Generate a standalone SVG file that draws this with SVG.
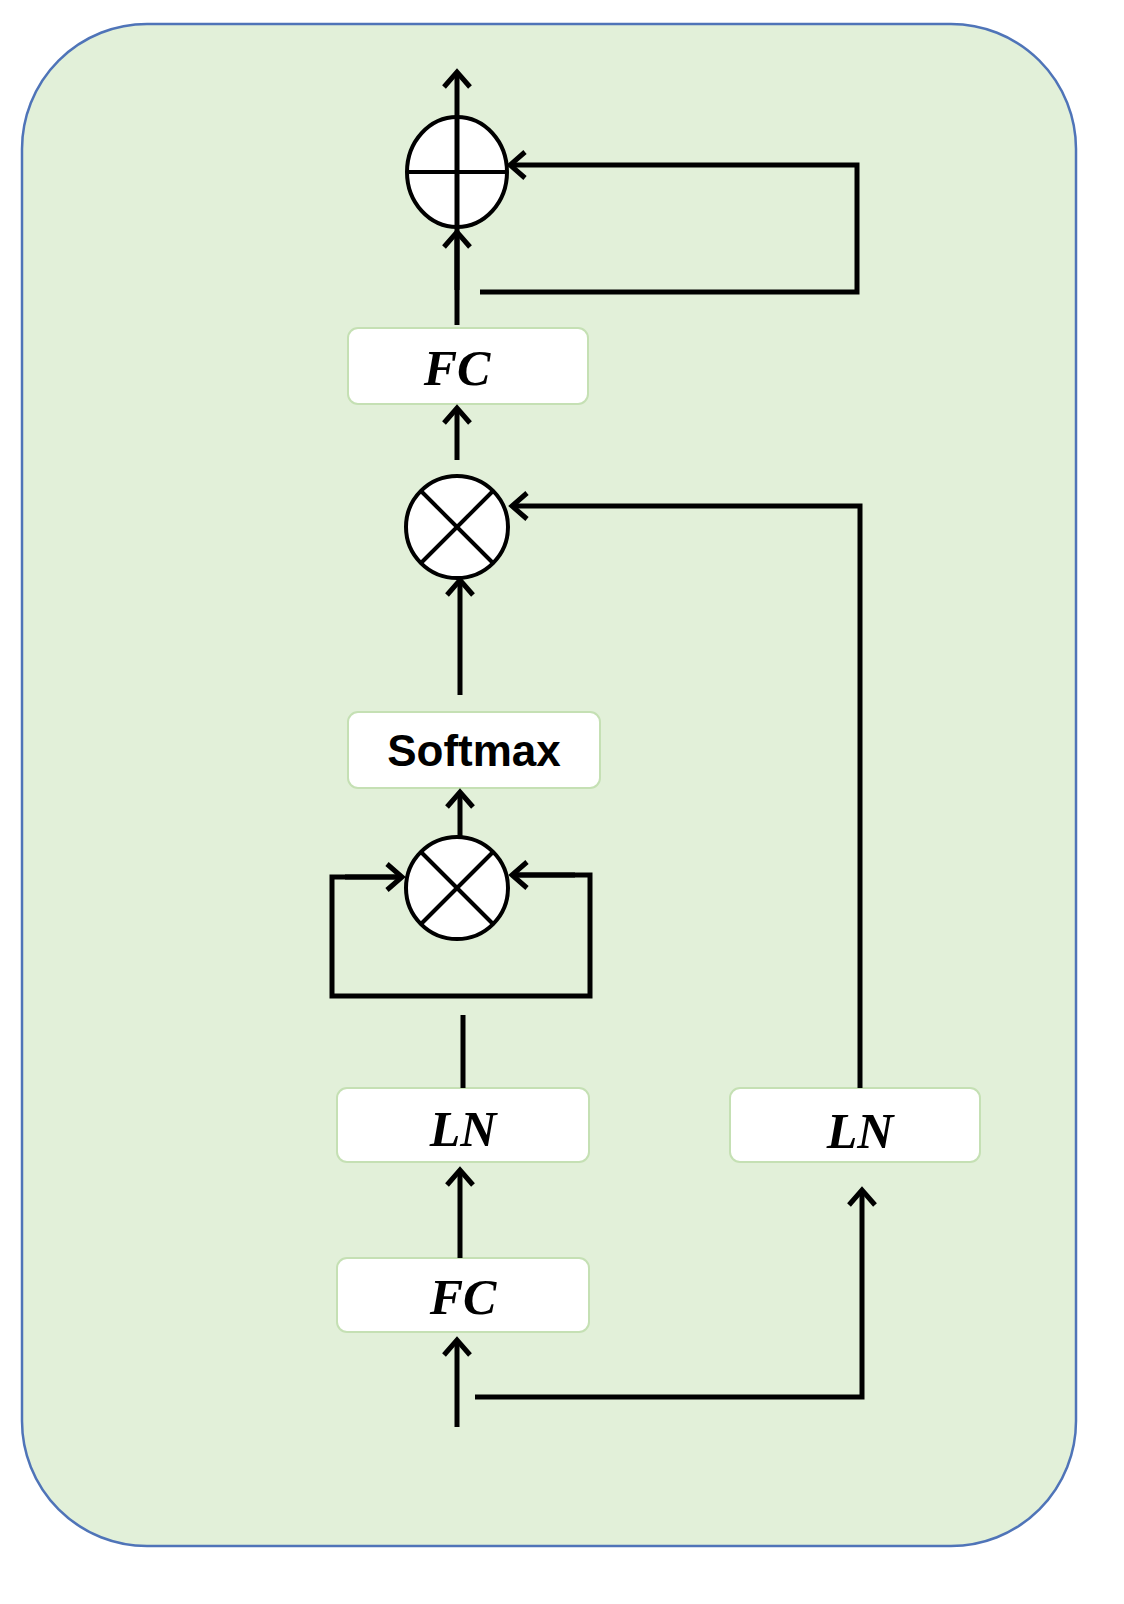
<svg xmlns="http://www.w3.org/2000/svg" width="1124" height="1604" viewBox="0 0 1124 1604">
<style>
.box{fill:#fff;stroke:#c5e0b4;stroke-width:2}
.ln{fill:none;stroke:#000;stroke-width:5}
.op{fill:#fff;stroke:#000;stroke-width:4}
.t{font-family:"Liberation Serif",serif;font-style:italic;font-weight:bold;font-size:50px;text-anchor:middle}
.s{font-family:"Liberation Sans",sans-serif;font-weight:bold;font-size:44px;text-anchor:middle}
</style>
<defs>
<marker id="a" viewBox="0 0 20 20" refX="18" refY="10" markerWidth="20" markerHeight="20" markerUnits="userSpaceOnUse" orient="auto" style="overflow:visible">
<polyline points="3,-3 18,10 3,23" fill="none" stroke="#000" stroke-width="5"/>
</marker>
</defs>
<rect x="22" y="24" width="1054" height="1522" rx="125" fill="#e2f0d9" stroke="#4f74b8" stroke-width="2.5"/>
<g id="add">
<ellipse class="op" cx="457" cy="172" rx="50" ry="55"/>
<line x1="407" y1="172" x2="507" y2="172" stroke="#000" stroke-width="4"/>
</g>
<g id="fc2"><rect class="box" x="348" y="328" width="240" height="76" rx="10"/><text class="t" x="457" y="385">FC</text></g>
<g id="mul2">
<circle class="op" cx="457" cy="527" r="51"/>
<line x1="421" y1="491" x2="493" y2="563" stroke="#000" stroke-width="4"/>
<line x1="493" y1="491" x2="421" y2="563" stroke="#000" stroke-width="4"/>
</g>
<g id="softmax"><rect class="box" x="348" y="712" width="252" height="76" rx="10"/><text class="s" x="474" y="766">Softmax</text></g>
<g id="mul1">
<circle class="op" cx="457" cy="888" r="51"/>
<line x1="421" y1="852" x2="493" y2="924" stroke="#000" stroke-width="4"/>
<line x1="493" y1="852" x2="421" y2="924" stroke="#000" stroke-width="4"/>
</g>
<g id="ln1"><rect class="box" x="337" y="1088" width="252" height="74" rx="10"/><text class="t" x="463" y="1146">LN</text></g>
<g id="ln2"><rect class="box" x="730" y="1088" width="250" height="74" rx="10"/><text class="t" x="860" y="1148">LN</text></g>
<g id="fc1"><rect class="box" x="337" y="1258" width="252" height="74" rx="10"/><text class="t" x="463" y="1314">FC</text></g>
<g id="connectors">
<line class="ln" x1="457" y1="325" x2="457" y2="72" marker-end="url(#a)"/>
<line class="ln" x1="457" y1="290" x2="457" y2="232" marker-end="url(#a)"/>
<polyline class="ln" points="480,292 857,292 857,165 510,165" marker-end="url(#a)"/>
<line class="ln" x1="457" y1="460" x2="457" y2="408" marker-end="url(#a)"/>
<line class="ln" x1="460" y1="695" x2="460" y2="580" marker-end="url(#a)"/>
<polyline class="ln" points="860,1088 860,506 512,506" marker-end="url(#a)"/>
<line class="ln" x1="460" y1="837" x2="460" y2="792" marker-end="url(#a)"/>
<polyline class="ln" points="402,877 332,877 332,996 590,996 590,875 512,875"/>
<line class="ln" x1="345" y1="877" x2="402" y2="877" marker-end="url(#a)"/>
<line class="ln" x1="575" y1="875" x2="512" y2="875" marker-end="url(#a)"/>
<line class="ln" x1="463" y1="1015" x2="463" y2="1088"/>
<line class="ln" x1="460" y1="1258" x2="460" y2="1170" marker-end="url(#a)"/>
<line class="ln" x1="457" y1="1427" x2="457" y2="1340" marker-end="url(#a)"/>
<polyline class="ln" points="475,1397 862,1397 862,1190" marker-end="url(#a)"/>
</g>
</svg>
